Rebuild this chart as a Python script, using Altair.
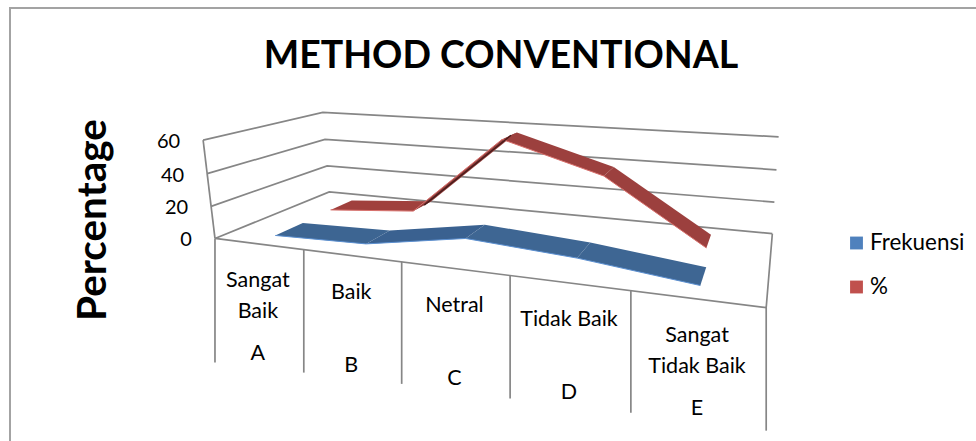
import numpy as np
import pandas as pd
import altair as alt

# Chart content
title_text = "METHOD CONVENTIONAL"
y_title = "Percentage"
categories = [["Sangat", "Baik"], ["Baik"], ["Netral"], ["Tidak Baik"], ["Sangat", "Tidak Baik"]]
letters = ["A", "B", "C", "D", "E"]
frekuensi = [0.5, 2, 12, 8, 1]
persen = [1, 6, 57, 39, 1.5]
y_ticks = [0, 20, 40, 60]
y_max = 60

# Camera of the 3D box: (category share, depth share, value share) -> canvas pixels
CAMERA = np.array([
    [373.73651, 195.68277, -18.29278, 214.97424],
    [-2.04215, 0.95026, -102.72434, 238.44064],
    [-0.23164, 0.24725, -0.03169, 1.0],
])


def project(c, d, v):
    h = CAMERA @ np.array([c, d, v / y_max, 1.0])
    return float(h[0] / h[2]), float(h[1] / h[2])


W, H = 976, 441
X = alt.X("x:Q", scale=alt.Scale(domain=[0, W], range=[0, W]), axis=None)
Y = alt.Y("y:Q", scale=alt.Scale(domain=[0, H], range=[0, H]), axis=None)
GRID = "#868686"


def polyline(points, gid):
    return [{"x": p[0], "y": p[1], "gid": gid, "i": i} for i, p in enumerate(points)]


# Walls, gridlines and floor outline
box = []
for n, t in enumerate(y_ticks):
    box += polyline([project(0, 0, t), project(0, 1, t), project(1, 1, t)], f"grid{n}")
box += polyline([project(0, 0, 0), project(1, 0, 0), project(1, 1, 0)], "floor")
box += polyline([project(0, 0, 0), project(0, 0, y_max)], "wall")

# Category separators hanging below the front edge of the floor
drops = [124, 123, 122, 123, 122, 123]
front_pts = [project(i / 5, 0, 0) for i in range(6)]
for i, (p, drop) in enumerate(zip(front_pts, drops)):
    box += polyline([p, (p[0], p[1] + drop)], f"sep{i}")

box_layer = alt.Chart(pd.DataFrame(box)).mark_line(color=GRID, strokeWidth=1.7).encode(
    x=X, y=Y, detail="gid:N", order="i:Q"
)

# Frame of the chart area
frame = polyline([(10, H), (10, 8), (W, 8)], "frame")
frame_layer = alt.Chart(pd.DataFrame(frame)).mark_line(color="#a3a3a3", strokeWidth=2).encode(
    x=X, y=Y, detail="gid:N", order="i:Q"
)


def ribbon(values, d0, d1, shades, gid, end_c=0.9):
    """Top faces of one 3D line series, one quad per segment between categories."""
    cs = [(i + 0.5) / 5 for i in range(len(values))]
    cs[-1] = end_c
    rows = []
    for k in range(len(values) - 1):
        quad = [
            project(cs[k], d0, values[k]),
            project(cs[k + 1], d0, values[k + 1]),
            project(cs[k + 1], d1, values[k + 1]),
            project(cs[k], d1, values[k]),
            project(cs[k], d0, values[k]),
        ]
        for r in polyline(quad, f"{gid}{k}"):
            r["shade"] = shades[k]
            rows.append(r)
    return rows, [project(c, d0, v) for c, v in zip(cs, values)]


blue_rows, blue_front = ribbon(frekuensi, 0.13, 0.36,
                               ["#3d6592", "#3a6190", "#3e6693", "#3e6693"], "b")
red_rows, red_front = ribbon(persen, 0.62, 0.84,
                             ["#a0403d", "#94403e", "#9c403e", "#9c403e"], "r", end_c=0.89)

faces = alt.Chart(pd.DataFrame(blue_rows + red_rows)).mark_line(
    filled=True, interpolate="linear", strokeWidth=0.5
).encode(
    x=X, y=Y, detail="gid:N", order="i:Q",
    color=alt.Color("shade:N", scale=None),
)

# Lit lower rim of each ribbon
rims = polyline(blue_front, "blue") + polyline(red_front, "red")
rim_df = pd.DataFrame(rims)
rim_df["shade"] = rim_df["gid"].map({"blue": "#5b8fd0", "red": "#d8706c"})
rim_layer = alt.Chart(rim_df).mark_line(strokeWidth=1.0).encode(
    x=X, y=Y, detail="gid:N", order="i:Q",
    color=alt.Color("shade:N", scale=None),
)

# Dark underside visible on the steep rise of the red ribbon
under = polyline([project(0.3, 0.75, persen[1]), project(0.5, 0.75, persen[2])], "under")
under_layer = alt.Chart(pd.DataFrame(under)).mark_line(color="#4a1c1b", strokeWidth=1.4).encode(
    x=X, y=Y, detail="gid:N", order="i:Q"
)

# Text: category names, letters, value ticks
FONT = "Lato"
labels = []
for i, names in enumerate(categories):
    left, right = front_pts[i], front_pts[i + 1]
    cx = (left[0] + right[0]) / 2
    cy = (left[1] + right[1]) / 2
    for j, name in enumerate(names):
        labels.append({"x": cx - 1.5, "y": cy + 37 + 30.5 * j, "t": name})
    labels.append({"x": cx - 1.5, "y": cy + 110, "t": letters[i]})
label_layer = alt.Chart(pd.DataFrame(labels)).mark_text(
    font=FONT, fontSize=21.5, color="#000000", align="center", baseline="middle"
).encode(x=X, y=Y, text="t:N")

ticks = []
for t in y_ticks:
    px, py = project(0, 0, t)
    ticks.append({"x": px - 23, "y": py + 2, "t": str(t)})
tick_layer = alt.Chart(pd.DataFrame(ticks)).mark_text(
    font=FONT, fontSize=20, color="#000000", align="right", baseline="middle"
).encode(x=X, y=Y, text="t:N")

title_layer = alt.Chart(pd.DataFrame([{"x": 501, "y": 57, "t": title_text}])).mark_text(
    font=FONT, fontSize=37.5, fontWeight="bold", color="#000000", align="center", baseline="middle"
).encode(x=X, y=Y, text="t:N")

ytitle_layer = alt.Chart(pd.DataFrame([{"x": 94, "y": 220, "t": y_title}])).mark_text(
    font=FONT, fontSize=40.5, fontWeight="bold", color="#000000", align="center", baseline="middle", angle=270
).encode(x=X, y=Y, text="t:N")

# Legend
legend = pd.DataFrame([
    {"x": 856.5, "y": 243, "t": "Frekuensi", "c": "#4f81bd"},
    {"x": 856.5, "y": 287, "t": "%", "c": "#c0504d"},
])
legend_marks = alt.Chart(legend).mark_square(size=165, opacity=1).encode(
    x=X, y=Y, color=alt.Color("c:N", scale=None)
)
legend_text = alt.Chart(legend).mark_text(
    font=FONT, fontSize=22.4, color="#000000", align="left", baseline="middle", dx=13.5
).encode(x=X, y=Y, text="t:N")

chart = alt.layer(
    frame_layer, box_layer, faces, rim_layer, under_layer,
    label_layer, tick_layer, title_layer, ytitle_layer, legend_marks, legend_text,
).properties(
    width=W, height=H, padding=0, background="white",
    autosize=alt.AutoSizeParams(type="none"),
).configure_view(stroke=None)

chart.save("out.html", embed_options={"renderer": "svg", "actions": False})
